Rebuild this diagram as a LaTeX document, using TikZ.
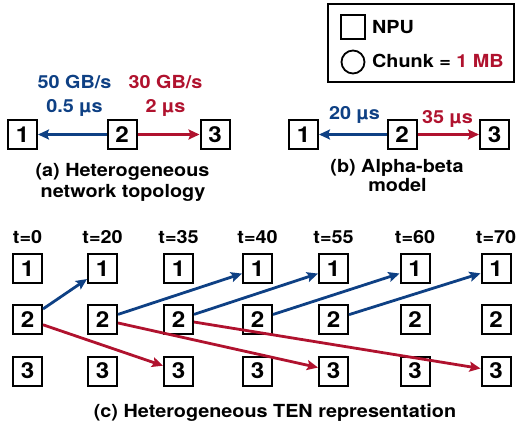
\documentclass[tikz,border=0pt]{standalone}
\usepackage{fontspec}
\setmainfont[FakeStretch=1.1]{TeX Gyre Heros}
\usetikzlibrary{arrows.meta}
\definecolor{linkblue}{RGB}{14,64,132}
\definecolor{linkred}{RGB}{176,18,46}

\begin{document}
\begin{tikzpicture}[x=1pt, y=-1pt, font=\bfseries\fontsize{18}{20}\selectfont]
	\def\rowa{268.5}
	\def\rowb{319.5}
	\def\rowc{371}
	\def\topy{134.5}
	\tikzset{npu/.style={draw, line width=2pt, minimum size=29pt, inner sep=0pt, font=\bfseries\fontsize{22}{22}\selectfont}}
	\tikzset{edge/.style={-{Stealth[length=11pt, width=10pt, inset=2pt]}, line width=2.8pt}}
	\tikzset{lbl/.style={anchor=base, inner sep=0pt}}
	\useasboundingbox (0,0) rectangle (517,425);
	% legend
	\node(legend)[draw, line width=2pt, minimum width=186pt, minimum height=78pt] at (421,43){};
	\node(lnpu)[draw, line width=1.8pt, minimum size=24pt, inner sep=0pt] at (353,27){};
	\node(lchunk)[circle, draw, line width=1.8pt, minimum size=23pt, inner sep=0pt] at (353,62){};
	\node(npulbl)[anchor=base west, inner sep=0pt] at (372,34){NPU};
	\node(chunklbl)[anchor=base west, inner sep=0pt] at (372,68){Chunk = \textcolor{linkred}{1 MB}};
	% (a) topology
	\node(a1)[npu] at (22.5,\topy){1};
	\node(a2)[npu] at (122,\topy){2};
	\node(a3)[npu] at (215,\topy){3};
	\draw[edge, linkblue] (a2) -- (a1);
	\draw[edge, linkred] (a2) -- (a3);
	\node(abw1)[lbl, text=linkblue] at (74.5,89){50 GB/s};
	\node(alat1)[lbl, text=linkblue] at (74.5,113){0.5 µs};
	\node(abw2)[lbl, text=linkred] at (165.5,89){30 GB/s};
	\node(alat2)[lbl, text=linkred] at (165.5,113){2 µs};
	\node(acap1)[lbl] at (122.5,176){(a) Heterogeneous};
	\node(acap2)[lbl] at (123,197.5){network topology};
	% (b) alpha-beta
	\node(b1)[npu] at (303.5,\topy){1};
	\node(b2)[npu] at (402,\topy){2};
	\node(b3)[npu] at (494.5,\topy){3};
	\draw[edge, linkblue] (b2) -- (b1);
	\draw[edge, linkred] (b2) -- (b3);
	\node(blat1)[lbl, text=linkblue] at (354.5,120){20 µs};
	\node(blat2)[lbl, text=linkred] at (447.5,124){35 µs};
	\node(bcap1)[lbl] at (397,172){(b) Alpha-beta};
	\node(bcap2)[lbl] at (397.5,192){model};
	% (c) TEN
	\foreach \x/\t in {27.5/0, 102.5/20, 178.5/35, 257.5/40, 333.5/55, 415/60, 496/70}{
		\node(time\t)[lbl] at (\x,243){t=\t};
		\node(t\t-1)[npu] at (\x,\rowa){1};
		\node(t\t-2)[npu] at (\x,\rowb){2};
		\node(t\t-3)[npu] at (\x,\rowc){3};
	}
	\draw[edge, linkblue] (t0-2) -- (t20-1);
	\draw[edge, linkblue] (t20-2) -- (t40-1);
	\draw[edge, linkblue] (t35-2) -- (t55-1);
	\draw[edge, linkblue] (t40-2) -- (t60-1);
	\draw[edge, linkblue] (t55-2) -- (t70-1);
	\draw[edge, linkred] (t0-2) -- (t35-3);
	\draw[edge, linkred] (t20-2) -- (t55-3);
	\draw[edge, linkred] (t35-2) -- (t70-3);
	\node(ccap)[lbl] at (275,417){(c) Heterogeneous TEN representation};
\end{tikzpicture}
\end{document}
